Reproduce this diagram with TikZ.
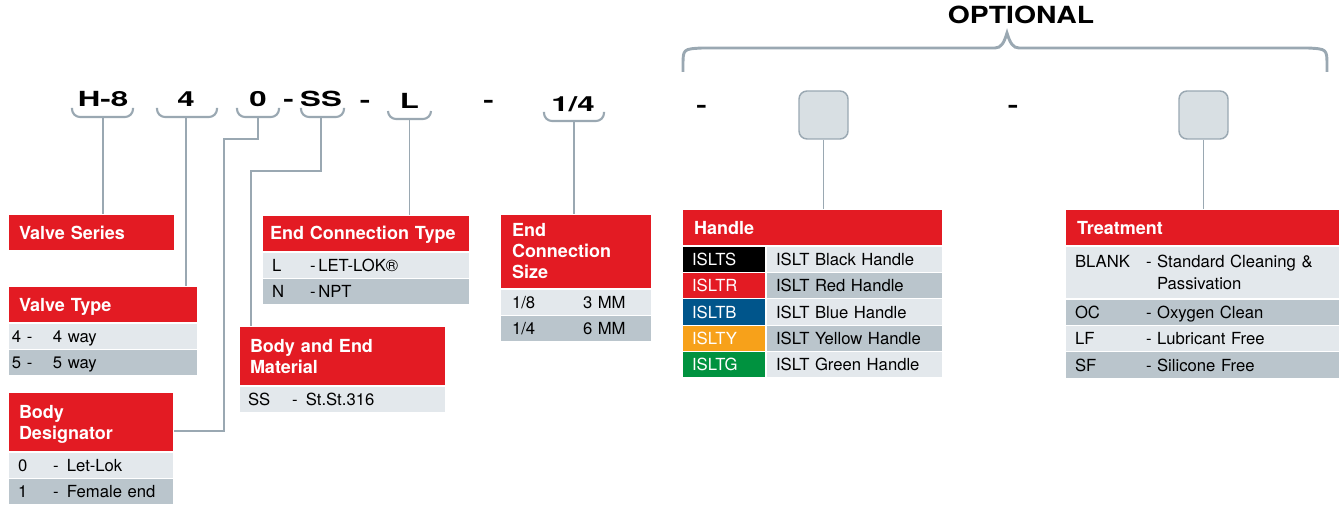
\documentclass[tikz,border=0pt]{standalone}
\usepackage{fontspec}
\setmainfont{TeX Gyre Heros}
\newfontfamily\codefont[FakeStretch=1.5]{TeX Gyre Heros}
\newfontfamily\optfont[FakeStretch=1.2]{TeX Gyre Heros}
\definecolor{hdrred}{HTML}{E31B23}
\definecolor{rowlight}{HTML}{E3E8EC}
\definecolor{rowdark}{HTML}{BAC5CC}
\definecolor{linegray}{HTML}{9AA8B2}
\definecolor{boxgray}{HTML}{D8DFE3}
\definecolor{hblue}{HTML}{00558B}
\definecolor{horange}{HTML}{F7A11A}
\definecolor{hgreen}{HTML}{00923F}
\tikzset{
  code/.style={font=\codefont\bfseries\fontsize{15.6}{18}\selectfont, anchor=base, inner sep=0pt},
  opt/.style={font=\optfont\bfseries\fontsize{17.7}{20}\selectfont, anchor=base, inner sep=0pt},
  brace/.style={draw=linegray, line width=1.6pt, rounded corners=6pt},
  obrace/.style={draw=linegray, line width=2.2pt},
  link/.style={draw=linegray, line width=1.4pt},
  obox/.style={draw=linegray, fill=boxgray, line width=1.1pt, rounded corners=6pt,
    minimum width=36.75pt, minimum height=36pt, inner sep=0pt},
  hdr/.style={fill=hdrred, text=white, font=\bfseries\fontsize{13.5}{15.75}\selectfont,
    anchor=north west, outer sep=0pt, inner xsep=8.25pt, inner ysep=0pt, align=left,
    draw=white, line width=0.9pt, text height=9.75pt, text depth=0pt},
  rowl/.style={fill=rowlight, font=\fontsize{12.5}{16.5}\selectfont, anchor=north west,
    outer sep=0pt, inner xsep=7.5pt, inner ysep=0pt, minimum height=19.8pt, align=left,
    draw=white, line width=0.9pt, text height=9pt, text depth=0pt},
  rowd/.style={rowl, fill=rowdark},
  keyc/.style={rowl, text=white, text width=48pt}
}
\begin{document}
\begin{tikzpicture}[x=0.75pt, y=-0.75pt]
\useasboundingbox (0,0) rectangle (1343,506);

% ordering code
\node[code] (h8) at (103,107) {H-8};
\node[code] (c4) at (186,107) {4};
\node[code] (c0) at (258,107) {0};
\node[code] (d1) at (288.5,107) {-};
\node[code] (ss) at (321,107) {SS};
\node[code] (d2) at (365,108) {-};
\node[code] (cl) at (409.5,109) {L};
\node[code] (d3) at (488.5,108) {-};
\node[code] (qs) at (573,112) {1/4};
\node[code] (d4) at (701.5,113) {-};
\node[code] (d5) at (1013,113) {-};
\node[opt] (optl) at (1021,24) {OPTIONAL};

\node[obox] (ob1) at (823.5,115) {};
\node[obox] (ob2) at (1203.5,115) {};

% braces under the code
\draw[brace] (72,108) -- (72,117) -- (133,117) -- (133,108);
\draw[brace] (157,108) -- (157,117) -- (217,117) -- (217,108);
\draw[brace] (237,108) -- (237,117) -- (279,117) -- (279,108);
\draw[brace] (301,108) -- (301,117) -- (344,117) -- (344,108);
\draw[brace] (388,111) -- (388,119) -- (431,119) -- (431,111);
\draw[brace] (544,112) -- (544,121) -- (604,121) -- (604,112);
\draw[obrace] (683,72) -- (683,66) .. controls (683,49) .. (702,48) -- (995,48)
  .. controls (1001,48) and (1004,43) .. (1007,33)
  .. controls (1010,43) and (1013,48) .. (1019,48) -- (1308,48)
  .. controls (1327,49) .. (1327,66) -- (1327,72);

\coordinate (h8b) at (103,117);
\coordinate (c4b) at (186,117);
\coordinate (c0b) at (258,117);
\coordinate (c0k) at (224,139);
\coordinate (ssb) at (321,117);
\coordinate (ssk) at (251,171);
\coordinate (clb) at (409.5,119);
\coordinate (qsb) at (574,121);

% valve series
\node[hdr, text width=108.75pt, minimum height=27.75pt] (vs) at (8,214) {Valve Series};

% valve type
\node[hdr, text width=126pt, minimum height=27.75pt] (vt) at (8,286) {Valve Type};
\node[rowl, inner xsep=3pt, text width=136.5pt] (vt1) at (vt.south west) {\makebox[30.75pt][l]{4 -}4 way};
\node[rowd, inner xsep=3pt, text width=136.5pt] (vt2) at (vt1.south west) {\makebox[30.75pt][l]{5 -}5 way};

% body designator
\node[hdr, text width=108pt, minimum height=45pt, text depth=15.75pt] (bd) at (8,392) {Body\\Designator};
\node[rowl, text width=109.5pt] (bd1) at (bd.south west) {\makebox[26.25pt][l]{0}-\enspace Let-Lok};
\node[rowd, text width=109.5pt] (bd2) at (bd1.south west) {\makebox[26.25pt][l]{1}-\enspace Female end};

% end connection type
\node[hdr, inner xsep=6pt, text width=144pt, minimum height=27.75pt] (ect) at (262,215) {End Connection Type};
\node[rowl, text width=141pt] (ect1) at (ect.south west) {\makebox[28.5pt][l]{L}-\,LET-LOK®};
\node[rowd, text width=141pt] (ect2) at (ect1.south west) {\makebox[28.5pt][l]{N}-\,NPT};

% body and end material
\node[hdr, text width=138.75pt, minimum height=45pt, text depth=15.75pt] (bem) at (239,326) {Body and End\\Material};
\node[rowl, inner xsep=6.75pt, text width=141.75pt] (bem1) at (bem.south west) {\makebox[33pt][l]{SS}-\enspace St.St.316};

% end connection size
\node[hdr, inner xsep=9pt, text width=96pt, minimum height=56.25pt, text depth=31.5pt] (ecs) at (500,214) {End\\Connection\\Size};
\node[rowl, inner xsep=9pt, text width=96pt] (ecs1) at (ecs.south west) {\makebox[53.25pt][l]{1/8}3 MM};
\node[rowd, inner xsep=9pt, text width=96pt] (ecs2) at (ecs1.south west) {\makebox[53.25pt][l]{1/4}6 MM};

% handle
\node[hdr, inner xsep=9pt, text width=177.75pt, minimum height=27.75pt] (hd) at (682,209) {Handle};
\node[keyc, fill=black] (hk1) at (hd.south west) {ISLTS};
\node[rowl, text width=117.75pt] (hv1) at (hk1.north east) {ISLT Black Handle};
\node[keyc, fill=hdrred] (hk2) at (hk1.south west) {ISLTR};
\node[rowd, text width=117.75pt] (hv2) at (hk2.north east) {ISLT Red Handle};
\node[keyc, fill=hblue] (hk3) at (hk2.south west) {ISLTB};
\node[rowl, text width=117.75pt] (hv3) at (hk3.north east) {ISLT Blue Handle};
\node[keyc, fill=horange] (hk4) at (hk3.south west) {ISLTY};
\node[rowd, text width=117.75pt] (hv4) at (hk4.north east) {ISLT Yellow Handle};
\node[keyc, fill=hgreen] (hk5) at (hk4.south west) {ISLTG};
\node[rowl, text width=117.75pt] (hv5) at (hk5.north east) {ISLT Green Handle};

% treatment
\node[hdr, inner xsep=9pt, text width=188.25pt, minimum height=27.75pt] (tr) at (1065,209) {Treatment};
\node[rowl, text width=191.25pt, minimum height=39.75pt, text depth=16.5pt] (tr1) at (tr.south west)
  {\makebox[53.25pt][l]{BLANK}- \parbox[t]{118pt}{Standard Cleaning \&\\Passivation}};
\node[rowd, text width=191.25pt] (tr2) at (tr1.south west) {\makebox[53.25pt][l]{OC}- Oxygen Clean};
\node[rowl, text width=191.25pt] (tr3) at (tr2.south west) {\makebox[53.25pt][l]{LF}- Lubricant Free};
\node[rowd, text width=191.25pt] (tr4) at (tr3.south west) {\makebox[53.25pt][l]{SF}- Silicone Free};

% connectors
\draw[link] (h8b) -- (h8b |- vs.north);
\draw[link] (c4b) -- (c4b |- vt.north);
\draw[link] (c0b) |- (c0k) |- ([yshift=-6.75pt]bd.east);
\draw[link] (ssb) |- (ssk) -- (ssk |- bem.north);
\draw[link] (clb) -- (clb |- ect.north);
\draw[link] (qsb) -- (qsb |- ecs.north);
\draw[link] (ob1) -- (ob1 |- hd.north);
\draw[link] (ob2) -- (ob2 |- tr.north);
\end{tikzpicture}
\end{document}
